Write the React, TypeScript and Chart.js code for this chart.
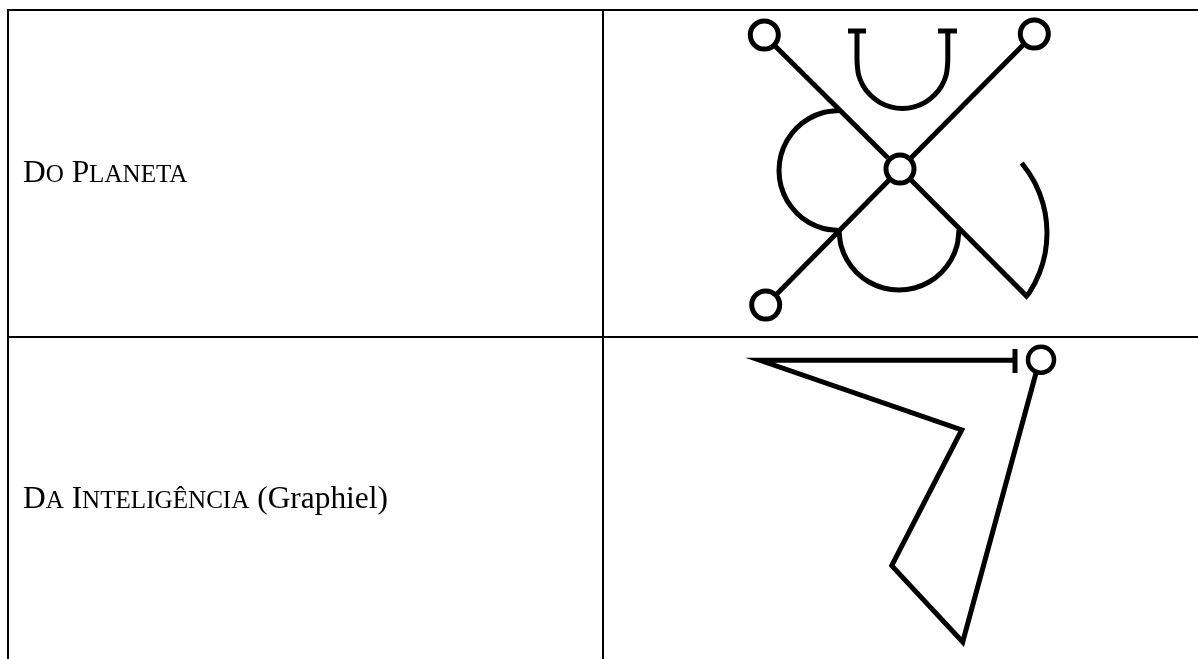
import React, { useEffect, useRef } from "react";
import { Chart, registerables } from "chart.js";

Chart.register(...registerables);

type P = { x: number; y: number };
const pts = (a: number[][]): P[] => a.map(([x, y]) => ({ x, y }));

const tableTop = [[7, 10], [1198, 10]];
const tableMiddle = [[7, 337], [1198, 337]];
const tableLeft = [[8, 9], [8, 659]];
const tableDivider = [[603, 9], [603, 659]];

const diagonalA = [[764, 35], [888, 158]];
const diagonalB = [[1034, 34], [900, 169], [766, 305]];
const hook = [
  [911, 180], [1026.5, 296], [1029.1, 293], [1034.9, 283], [1039.4, 273], [1042.8, 263],
  [1045.2, 253], [1046.5, 243], [1047, 233], [1046.5, 223], [1045.2, 213], [1042.8, 203],
  [1039.4, 193], [1034.9, 183], [1029.1, 173], [1021.7, 163],
];
const cupLeft = [[848, 31], [866, 31]];
const cupRight = [[938, 31], [957, 31]];
const cup = [
  [857, 31], [857, 38], [857, 45], [857, 52], [857, 58], [857.2, 64], [858.6, 74.8], [863.1, 85.7],
  [870.3, 95.1], [879.7, 102.3], [890.6, 106.8], [902.4, 108.4], [914.2, 106.8], [925.1, 102.3],
  [934.5, 95.1], [941.7, 85.7], [946.2, 74.8], [947.6, 64], [947.8, 58], [947.8, 52], [947.8, 45],
  [947.8, 38], [947.8, 31],
];
const arcLeft = [
  [839, 110.5], [823.5, 112.5], [809, 118.5], [796.6, 128.1], [787, 140.5], [781, 155],
  [779, 170.5], [781, 186], [787, 200.5], [796.6, 212.9], [809, 222.5], [823.5, 228.5], [839, 230.5],
];
const arcBottom = [
  [839, 231], [841, 245.5], [847, 260], [856.6, 272.4], [869, 282], [883.5, 288], [899, 290],
  [914.5, 288], [929, 282], [941.4, 272.4], [951, 260], [957, 245.5], [959, 230],
];
const planetRings = [[764.3, 35], [1034.3, 34], [900, 169], [765.7, 305]];

const spear = [
  [1015, 360.3], [760, 360.3], [961.7, 430], [891.7, 565.7], [962.7, 642], [1036, 373],
];
const spearBar = [[1015, 349], [1015, 373]];
const spirit = [[1041, 359.7]];

const labelPlanet = [{ t: "D", c: false }, { t: "O", c: true }, { t: " ", c: false }, { t: "P", c: false }, { t: "LANETA", c: true }];
const labelSpirit = [{ t: "D", c: false }, { t: "A", c: true }, { t: " ", c: false }, { t: "I", c: false }, { t: "NTELIGÊNCIA", c: true }, { t: " (Graphiel)", c: false }];
const labelAnchors = [[23, 182], [23, 508]];

const BLACK = "#000000";
const line = (data: number[][], width: number, tension = 0) => ({
  data: pts(data),
  showLine: true,
  borderColor: BLACK,
  borderWidth: width,
  pointRadius: 0,
  tension,
  fill: false,
  borderJoinStyle: "miter" as const,
  borderCapStyle: "butt" as const,
  order: 2,
});
const ring = (data: number[][], radius: number, width: number) => ({
  data: pts(data),
  showLine: false,
  pointStyle: "circle",
  pointRadius: radius,
  pointBorderWidth: width,
  pointBorderColor: BLACK,
  pointBackgroundColor: "#ffffff",
  order: 1,
});

const FONT = "'Liberation Serif', serif";
const BIG = 31.4;
const SMALL = 25.1;

const labelsPlugin = {
  id: "cellLabels",
  afterDraw(chart: any) {
    const { ctx, scales } = chart;
    ctx.save();
    ctx.fillStyle = BLACK;
    ctx.textBaseline = "alphabetic";
    [labelPlanet, labelSpirit].forEach((segments, i) => {
      let x = scales.x.getPixelForValue(labelAnchors[i][0]);
      const y = scales.y.getPixelForValue(labelAnchors[i][1]);
      segments.forEach((s) => {
        ctx.font = `${s.c ? SMALL : BIG}px ${FONT}`;
        ctx.fillText(s.t, x, y);
        x += ctx.measureText(s.t).width;
      });
    });
    ctx.restore();
  },
};

export default function App() {
  const ref = useRef<HTMLCanvasElement>(null);
  useEffect(() => {
    const chart = new Chart(ref.current!, {
      type: "scatter",
      data: {
        datasets: [
          line(tableTop, 2),
          line(tableMiddle, 2),
          line(tableLeft, 2),
          line(tableDivider, 2),
          line(diagonalA, 5),
          line(diagonalB, 5),
          line(hook, 5),
          line(cupLeft, 5),
          line(cupRight, 5),
          line(cup, 5, 0.35),
          line(arcLeft, 5, 0.35),
          line(arcBottom, 5, 0.35),
          line(spear, 5),
          line(spearBar, 5),
          ring(planetRings, 14, 5),
          ring(spirit, 13, 4.5),
        ] as any,
      },
      options: {
        animation: false,
        responsive: false,
        layout: { padding: 0, autoPadding: false },
        events: [],
        plugins: { legend: { display: false }, tooltip: { enabled: false }, title: { display: false } },
        scales: {
          x: { type: "linear", display: false, min: 0, max: 1198 },
          y: { type: "linear", display: false, min: 0, max: 659, reverse: true },
        },
      },
      plugins: [labelsPlugin],
    });
    return () => chart.destroy();
  }, []);
  return (
    <div style={{ position: "fixed", left: 0, top: 0, width: 1198, height: 659, overflow: "hidden", background: "#fff" }}>
      <canvas ref={ref} width={1198} height={659} style={{ display: "block" }} />
    </div>
  );
}
